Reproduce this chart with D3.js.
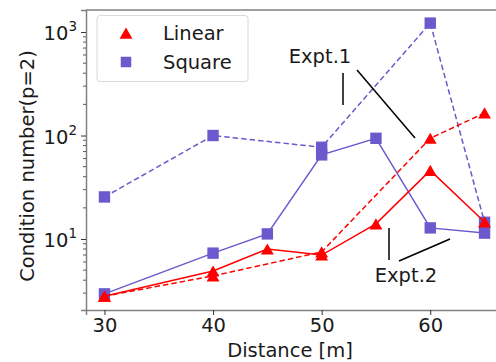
<!DOCTYPE html>
<html lang="en">
<head>
    <meta charset="UTF-8">
    <title>Condition number vs distance</title>
    <script src="https://cdn.jsdelivr.net/npm/d3@7"></script>
    <style>
        body { margin: 0; background: white; }
        svg { display: block; font-family: "DejaVu Sans", sans-serif; }
        svg text { fill: #1a1a1a; }
    </style>
</head>
<body>
<div id="chart"></div>
<script>
    // distances per series
    const distLinear1 = [30, 40, 50, 60, 65];
    const linear1 = [2.8, 4.4, 7.5, 94, 165];
    const distSquare1 = [30, 40, 50, 60, 65];
    const square1 = [25.5, 100, 77, 1220, 14.5];

    const distLinear2 = [30, 40, 45, 50, 55, 60, 65];
    const linear2 = [2.8, 4.9, 8.0, 7.0, 14, 46, 14.6];
    const distSquare2 = [30, 40, 45, 50, 55, 60, 65];
    const square2 = [2.95, 7.3, 11.2, 65, 94, 12.8, 11.4];

    const xTicks = [30, 40, 50, 60];
    const yTicks = [10, 100, 1000];

    const width = 496, height = 362;
    const margin = { top: 10, right: -70, bottom: 52, left: 86 };
    const fs = 19.5;

    const svg = d3.select("#chart").append("svg")
        .attr("width", width)
        .attr("height", height);

    const x = d3.scaleLinear()
        .domain([28.3, 72.5])
        .range([margin.left, width - margin.right]);
    const y = d3.scaleLog()
        .domain([2.06, 1633])
        .range([height - margin.bottom, margin.top]);

    const red = "#ff0000", blue = "#6a5acd";

    // axes
    const xAxis = svg.append("g")
        .attr("transform", `translate(0,${height - margin.bottom})`)
        .call(d3.axisBottom(x).tickValues(xTicks).tickSize(5).tickPadding(3));
    xAxis.selectAll("text")
        .style("font-size", fs + "px")
        .style("font-family", "'DejaVu Sans', sans-serif");

    const yAxis = svg.append("g")
        .attr("transform", `translate(${margin.left},0)`)
        .call(d3.axisLeft(y).tickValues(yTicks).tickSize(5).tickFormat(() => ""));

    // minor log ticks
    const minor = [];
    for (let e = 0; e <= 3; e++) {
        for (let m = 2; m <= 9; m++) {
            const v = m * Math.pow(10, e);
            if (v >= 2.06 && v <= 1633) minor.push(v);
        }
    }
    svg.append("g").selectAll("line").data(minor).enter().append("line")
        .attr("x1", margin.left).attr("x2", margin.left - 3)
        .attr("y1", d => y(d)).attr("y2", d => y(d))
        .attr("stroke", "#333").attr("stroke-width", 0.8);

    // y tick labels as 10^n
    yTicks.forEach(v => {
        const t = svg.append("text")
            .attr("x", margin.left - 9)
            .attr("y", y(v) + 8)
            .attr("text-anchor", "end")
            .style("font-size", fs + "px");
        t.append("tspan").text("10");
        t.append("tspan").attr("dy", -9).style("font-size", "13.5px").text(Math.round(Math.log10(v)));
    });

    [xAxis, yAxis].forEach(g => {
        g.select(".domain").attr("stroke", "#808080").attr("stroke-width", 1.5);
        g.selectAll(".tick line").attr("stroke", "#333");
    });

    // top spine
    svg.append("line")
        .attr("x1", margin.left).attr("x2", width)
        .attr("y1", margin.top).attr("y2", margin.top)
        .attr("stroke", "#808080").attr("stroke-width", 1.5);

    // series
    function drawSeries(xs, ys, color, dashed, shape) {
        const pts = xs.map((d, i) => [d, ys[i]]);
        const line = d3.line().x(d => x(d[0])).y(d => y(d[1]));
        svg.append("path")
            .datum(pts)
            .attr("fill", "none")
            .attr("stroke", color)
            .attr("stroke-width", 1.5)
            .attr("stroke-dasharray", dashed ? "5.5,3" : null)
            .attr("d", line);
        const sym = d3.symbol()
            .type(shape === "tri" ? d3.symbolTriangle : d3.symbolSquare)
            .size(shape === "tri" ? 72 : 130);
        svg.append("g").selectAll("path").data(pts).enter().append("path")
            .attr("transform", d => `translate(${x(d[0])},${y(d[1]) + (shape === "tri" ? 1.8 : 0)})`)
            .attr("d", sym)
            .attr("fill", color);
    }

    drawSeries(distSquare1, square1, blue, true, "sq");
    drawSeries(distSquare2, square2, blue, false, "sq");
    drawSeries(distLinear1, linear1, red, true, "tri");
    drawSeries(distLinear2, linear2, red, false, "tri");

    // annotations
    const ann = svg.append("g").attr("stroke", "black").attr("stroke-width", 1.5);
    ann.append("line").attr("x1", 343).attr("y1", 73).attr("x2", 343).attr("y2", 105);
    ann.append("line").attr("x1", 357).attr("y1", 70).attr("x2", 415).attr("y2", 138);
    ann.append("line").attr("x1", 389).attr("y1", 228).attr("x2", 389).attr("y2", 260);
    ann.append("line").attr("x1", 399).attr("y1", 261).attr("x2", 450).attr("y2", 239);

    svg.append("text").attr("x", 320).attr("y", 63).attr("text-anchor", "middle")
        .style("font-size", fs + "px").text("Expt.1");
    svg.append("text").attr("x", 406).attr("y", 282).attr("text-anchor", "middle")
        .style("font-size", fs + "px").text("Expt.2");

    // legend
    const lg = svg.append("g");
    lg.append("rect")
        .attr("x", 97).attr("y", 15.5).attr("width", 151).attr("height", 66)
        .attr("rx", 3)
        .attr("fill", "white").attr("fill-opacity", 0.85)
        .attr("stroke", "#d8d8d8");
    lg.append("path")
        .attr("transform", "translate(126,35)")
        .attr("d", d3.symbol().type(d3.symbolTriangle).size(72))
        .attr("fill", red);
    lg.append("path")
        .attr("transform", "translate(126,62)")
        .attr("d", d3.symbol().type(d3.symbolSquare).size(110))
        .attr("fill", blue);
    lg.append("text").attr("x", 163).attr("y", 40).style("font-size", fs + "px").text("Linear");
    lg.append("text").attr("x", 163).attr("y", 69).style("font-size", fs + "px").text("Square");

    // axis labels
    svg.append("text")
        .attr("x", 290).attr("y", 357)
        .attr("text-anchor", "middle")
        .style("font-size", fs + "px")
        .text("Distance [m]");
    svg.append("text")
        .attr("transform", `translate(34,166) rotate(-90)`)
        .attr("text-anchor", "middle")
        .style("font-size", fs + "px")
        .text("Condition number(p=2)");
</script>
</body>
</html>
